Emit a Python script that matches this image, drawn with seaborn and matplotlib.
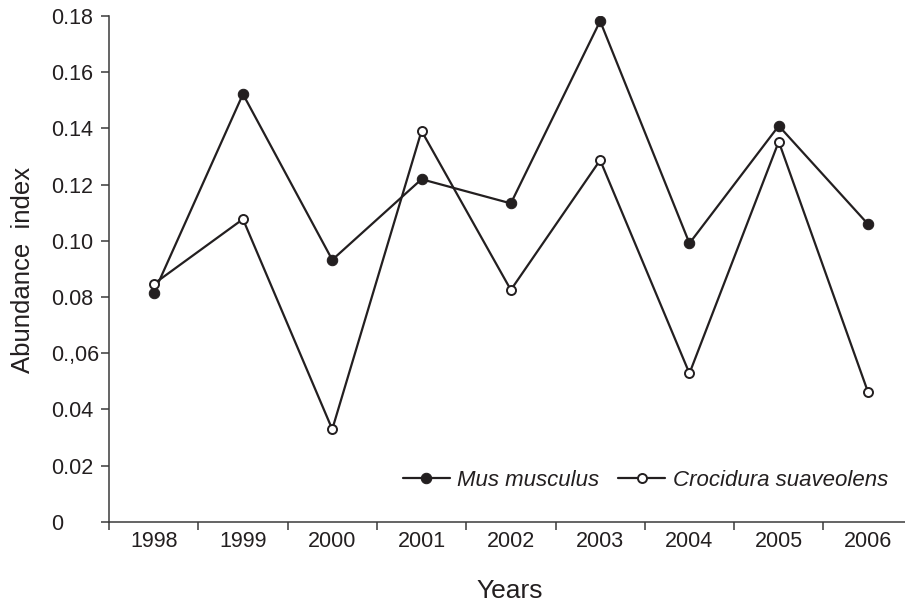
"""
Abundance index of two small mammal species, 1998-2006.
"""

import matplotlib

matplotlib.use("Agg")
import matplotlib.pyplot as plt
import numpy as np
import pandas as pd
import seaborn as sns

# Data
years = [1998, 1999, 2000, 2001, 2002, 2003, 2004, 2005, 2006]
mus = [0.0813, 0.1522, 0.0932, 0.1219, 0.1133, 0.1782, 0.0991, 0.1409, 0.1059]
crocidura = [0.0846, 0.1077, 0.0329, 0.1391, 0.0825, 0.1287, 0.0528, 0.1353, 0.0461]
species = ["Mus musculus", "Crocidura suaveolens"]
ytick_values = [0, 0.02, 0.04, 0.06, 0.08, 0.10, 0.12, 0.14, 0.16, 0.18]
ytick_labels = ["0", "0.02", "0.04", "0.,06", "0.08", "0.10", "0.12", "0.14", "0.16", "0.18"]

INK = "#231f20"

sns.set_theme(style="ticks")
plt.rcParams["font.family"] = ["Liberation Sans", "DejaVu Sans"]

df = pd.DataFrame({"year": years, species[0]: mus, species[1]: crocidura})

W, H = 905, 603
fig = plt.figure(figsize=(W / 100, H / 100), dpi=100)
ax = fig.add_axes([109 / W, 81.3 / H, 796 / W, 505.7 / H])

sns.lineplot(data=df, x="year", y=species[0], ax=ax, color=INK, lw=1.6,
             marker="o", markersize=7.5, markerfacecolor=INK,
             markeredgecolor=INK, label=species[0])
sns.lineplot(data=df, x="year", y=species[1], ax=ax, color=INK, lw=1.6,
             marker="o", markersize=6.5, markerfacecolor="white",
             markeredgecolor=INK, markeredgewidth=1.4, label=species[1])

ax.set_ylim(0, 0.18)
ax.set_xlim(years[0] - 0.5, years[0] - 0.5 + 796 / 89.3)
sns.despine(ax=ax)
for s in ["left", "bottom"]:
    ax.spines[s].set_color("#3a3a3a")
    ax.spines[s].set_linewidth(1.1)

# category boundaries carry the tick marks, labels sit in between
ax.set_xticks(np.array(years) - 0.5)
ax.set_xticklabels([])
ax.set_xticks(years, minor=True)
ax.set_xticklabels([str(y) for y in years], minor=True)
ax.tick_params(axis="x", which="major", length=5.5, width=1.1, color="#3a3a3a",
               direction="out")
ax.tick_params(axis="x", which="minor", length=0, pad=7, labelsize=15.5,
               labelcolor=INK)

ax.set_yticks(ytick_values)
ax.set_yticklabels(ytick_labels)
ax.tick_params(axis="y", length=5.5, width=1.1, color="#3a3a3a",
               direction="out", pad=36.5, labelsize=15.5, labelcolor=INK)
for t in ax.get_yticklabels():
    t.set_horizontalalignment("left")

ax.set_xlabel("")
ax.set_ylabel("")
fig.text(23 / W, 1 - 270 / H, "Abundance  index", rotation=90, ha="center",
         va="center", fontsize=18.5, color=INK)
fig.text(510 / W, (H - 598) / H, "Years", ha="center", va="baseline",
         fontsize=19, color=INK)

leg = ax.legend(loc="center right", bbox_to_anchor=(888 / W, 1 - 480 / H),
                bbox_transform=fig.transFigure, ncol=2, frameon=False,
                borderpad=0, borderaxespad=0, handlelength=2.1,
                handletextpad=0.35, columnspacing=0.85,
                prop={"style": "italic", "size": 16})
for txt in leg.get_texts():
    txt.set_color(INK)

fig.savefig("out.png", dpi=100)
